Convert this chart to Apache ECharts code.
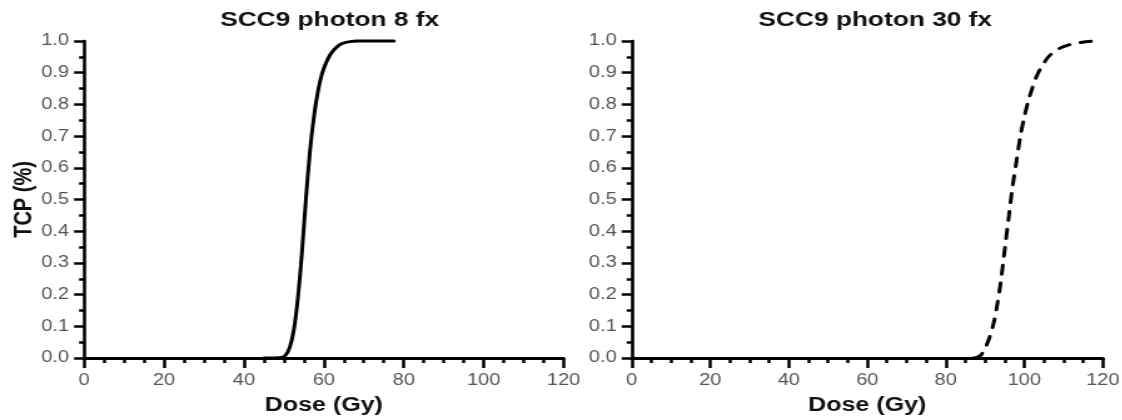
<!DOCTYPE html>
<html>
<head>
<meta charset="utf-8">
<script src="https://cdn.jsdelivr.net/npm/echarts@6/dist/echarts.min.js"></script>
<style>
html,body{margin:0;padding:0;background:#fff;overflow:hidden;}
#wrap{width:1122px;height:420px;overflow:hidden;}
/* the reference figure is horizontally stretched; draw at natural width and stretch */
#chart{width:897.6px;height:420px;transform:scaleX(1.25);transform-origin:0 0;}
</style>
</head>
<body>
<div id="wrap"><div id="chart"></div></div>
<script>
// Data
const panelTitles = ['SCC9 photon 8 fx', 'SCC9 photon 30 fx'];
const xAxisTitle = 'Dose (Gy)';
const yAxisTitle = 'TCP (%)';
const doseTicks = [0, 20, 40, 60, 80, 100, 120];
const tcpTicks = [0.0, 0.1, 0.2, 0.3, 0.4, 0.5, 0.6, 0.7, 0.8, 0.9, 1.0];

const dose8fx = [45, 49.5, 50.5, 51.5, 52.5, 53.5, 54.5, 55.5, 56.5, 57.5, 58.5, 59.5, 60.5, 61.5, 62.5, 63.5, 64.5, 66.5, 68.5, 72, 77.5];
const tcp8fx  = [0, 0.002, 0.01, 0.035, 0.09, 0.19, 0.33, 0.50, 0.65, 0.76, 0.84, 0.895, 0.93, 0.955, 0.972, 0.984, 0.992, 0.998, 1.0, 1.0, 1.0];

const dose30fx = [87, 88, 89, 90, 91, 92, 93, 94, 95, 96, 97, 98, 99, 100, 101, 102, 103, 104, 106, 108, 110, 113, 117];
const tcp30fx  = [0, 0.002, 0.01, 0.03, 0.06, 0.10, 0.16, 0.24, 0.34, 0.44, 0.54, 0.62, 0.70, 0.76, 0.81, 0.85, 0.885, 0.91, 0.948, 0.97, 0.982, 0.993, 0.999];

const pairs = (xs, ys) => xs.map((x, i) => [x, ys[i]]);

const FONT = '"Liberation Sans", Arial, sans-serif';
const S = 1.25; // horizontal stretch of the reference figure
const W = 1122 / S;
const px = v => v / S;
const grids = [
  {left: px(84), right: W - px(563), top: 41, bottom: 61},
  {left: px(631), right: W - px(1106), top: 41, bottom: 61}
];

function xAxis(gi) {
  return {
    type: 'value', gridIndex: gi, min: doseTicks[0], max: doseTicks[doseTicks.length - 1], interval: 20,
    name: xAxisTitle, nameLocation: 'middle', nameGap: 37,
    nameTextStyle: {fontFamily: FONT, fontWeight: 'bold', fontSize: 20, color: '#111'},
    axisLine: {show: true, onZero: false, lineStyle: {color: '#000', width: 3}},
    axisTick: {show: true, inside: false, length: 10, lineStyle: {color: '#000', width: 2.5}},
    minorTick: {show: true, splitNumber: 4, length: 5, lineStyle: {color: '#000', width: 2.5}},
    splitLine: {show: false}, minorSplitLine: {show: false},
    axisLabel: {margin: 15, fontFamily: FONT, fontSize: 16, color: '#555', formatter: v => String(v)}
  };
}
function yAxis(gi, withName) {
  return {
    type: 'value', gridIndex: gi, min: tcpTicks[0], max: tcpTicks[tcpTicks.length - 1], interval: 0.1,
    name: withName ? yAxisTitle : '', nameLocation: 'middle', nameGap: 38,
    nameTextStyle: {fontFamily: FONT, fontWeight: 'bold', fontSize: 20, color: '#111'},
    axisLine: {show: true, onZero: false, lineStyle: {color: '#000', width: 2.6}},
    axisTick: {show: true, inside: false, length: 8, lineStyle: {color: '#000', width: 2.5}},
    minorTick: {show: true, splitNumber: 2, length: 4, lineStyle: {color: '#000', width: 2.5}},
    splitLine: {show: false}, minorSplitLine: {show: false},
    axisLabel: {margin: 12, fontFamily: FONT, fontSize: 16, color: '#555', formatter: v => v.toFixed(1)}
  };
}

const chart = echarts.init(document.getElementById('chart'), null, {renderer: 'canvas', width: W, height: 420});
chart.setOption({
  animation: false,
  backgroundColor: '#fff',
  title: [
    {text: panelTitles[0], left: px(323), top: 5, textAlign: 'center',
     textStyle: {fontFamily: FONT, fontWeight: 'bold', fontSize: 21, color: '#111'}},
    {text: panelTitles[1], left: px(868), top: 5, textAlign: 'center',
     textStyle: {fontFamily: FONT, fontWeight: 'bold', fontSize: 21, color: '#111'}}
  ],
  grid: grids,
  xAxis: [xAxis(0), xAxis(1)],
  yAxis: [yAxis(0, true), yAxis(1, false)],
  series: [
    {type: 'line', xAxisIndex: 0, yAxisIndex: 0, data: pairs(dose8fx, tcp8fx),
     smooth: 0.3, showSymbol: false, symbol: 'none', clip: false,
     lineStyle: {color: '#000', width: 3, cap: 'round', join: 'round'}},
    {type: 'line', xAxisIndex: 1, yAxisIndex: 1, data: pairs(dose30fx, tcp30fx),
     smooth: 0.3, showSymbol: false, symbol: 'none', clip: false,
     lineStyle: {color: '#000', width: 3, type: [9, 9], cap: 'round', join: 'round'}}
  ]
});
</script>
</body>
</html>
